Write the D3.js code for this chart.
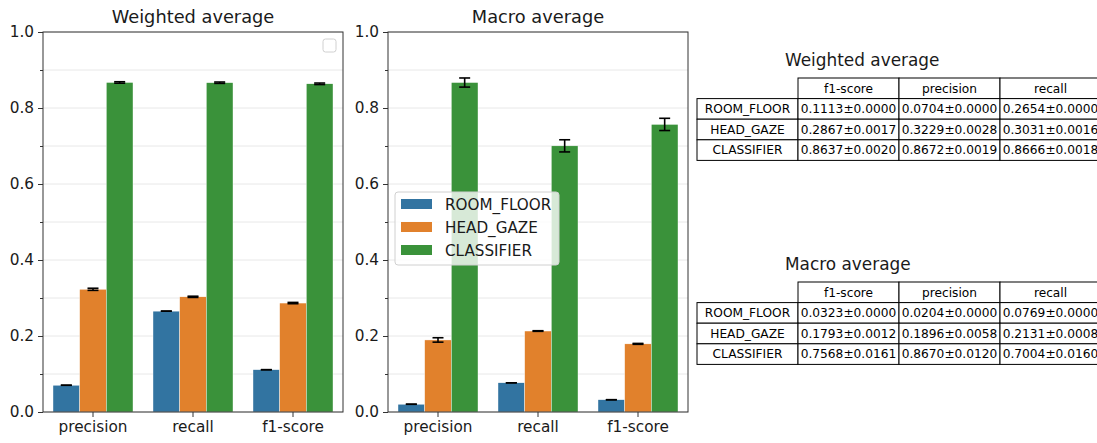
<!DOCTYPE html>
<html>
<head>
<meta charset="utf-8">
<script src="https://cdn.jsdelivr.net/npm/d3@7"></script>
<style>
  body { margin: 0; background: #fff; }
  svg { font-family: "DejaVu Sans", sans-serif; }
</style>
</head>
<body>
<svg id="svg" width="1097" height="443"></svg>
<script>
// categories
const metrics = ["precision", "recall", "f1-score"]
const methods = ["ROOM_FLOOR", "HEAD_GAZE", "CLASSIFIER"]
const colors = ["#3274a1", "#e1812c", "#3a923a"]
const yTicks = [0, 0.2, 0.4, 0.6, 0.8, 1.0]
const tableCols = ["f1-score", "precision", "recall"]

// values per method, in metrics order (precision, recall, f1-score)
const weightedMean = [[0.0704, 0.2654, 0.1113], [0.3229, 0.3031, 0.2867], [0.8672, 0.8666, 0.8637]]
const weightedStd = [[0.0000, 0.0000, 0.0000], [0.0028, 0.0016, 0.0017], [0.0019, 0.0018, 0.0020]]
const macroMean = [[0.0204, 0.0769, 0.0323], [0.1896, 0.2131, 0.1793], [0.8670, 0.7004, 0.7568]]
const macroStd = [[0.0000, 0.0000, 0.0000], [0.0058, 0.0008, 0.0012], [0.0120, 0.0160, 0.0161]]

const svg = d3.select("#svg")

function drawPanel(x0, title, mean, std, legend) {
    const w = 300, top = 32, bottom = 412
    const g = svg.append("g")

    const xs = d3.scaleBand().domain(metrics).range([x0, x0 + w])
    const inner = d3.scaleBand().domain(methods).range([0, xs.bandwidth() * 0.8])
    const ys = d3.scaleLinear().domain([0, 1]).range([bottom, top])

    // grid
    const minor = d3.range(0, 1.0001, 0.1)
    g.selectAll(".grid").data(minor).enter().append("line")
        .attr("x1", x0).attr("x2", x0 + w)
        .attr("y1", d => ys(d)).attr("y2", d => ys(d))
        .attr("stroke", "#e8e8e8").attr("stroke-width", 1)

    // bars
    const rows = []
    methods.forEach((m, i) => metrics.forEach((k, j) => rows.push({m: m, k: k, i: i, v: mean[i][j], s: std[i][j]})))
    const bx = d => xs(d.k) + xs.bandwidth() * 0.1 + inner(d.m)
    g.selectAll(".bar").data(rows).enter().append("rect")
        .attr("x", bx)
        .attr("width", inner.bandwidth())
        .attr("y", d => ys(d.v))
        .attr("height", d => ys(0) - ys(d.v))
        .attr("fill", d => colors[d.i])
        .attr("stroke", "#fff").attr("stroke-width", 0.4)

    // error bars
    const cx = d => bx(d) + inner.bandwidth() / 2
    const cap = 5.5
    const eb = g.selectAll(".err").data(rows).enter().append("g")
        .attr("stroke", "#000").attr("stroke-width", 1.6)
    eb.append("line").attr("x1", cx).attr("x2", cx)
        .attr("y1", d => ys(d.v - d.s)).attr("y2", d => ys(d.v + d.s))
    eb.append("line").attr("x1", d => cx(d) - cap).attr("x2", d => cx(d) + cap)
        .attr("y1", d => ys(d.v - d.s)).attr("y2", d => ys(d.v - d.s))
    eb.append("line").attr("x1", d => cx(d) - cap).attr("x2", d => cx(d) + cap)
        .attr("y1", d => ys(d.v + d.s)).attr("y2", d => ys(d.v + d.s))

    // axes
    g.append("g").attr("transform", `translate(${x0},0)`)
        .call(d3.axisLeft(ys).tickValues(yTicks).tickFormat(d3.format(".1f")).tickSize(5).tickPadding(4))
    g.append("g").attr("transform", `translate(${x0},0)`)
        .call(d3.axisLeft(ys).tickValues(d3.range(0.1, 1, 0.2)).tickFormat("").tickSize(3))
    g.append("g").attr("transform", `translate(0,${bottom})`)
        .call(d3.axisBottom(xs).tickSize(5).tickPadding(4))
    g.selectAll(".tick text").attr("font-size", 15.3).attr("fill", "#1a1a1a").attr("font-family", "DejaVu Sans")
    g.selectAll(".tick line").attr("stroke", "#333")
    g.selectAll(".domain").remove()

    g.append("rect").attr("x", x0).attr("y", top).attr("width", w).attr("height", bottom - top)
        .attr("fill", "none").attr("stroke", "#333").attr("stroke-width", 1)

    g.append("text").attr("x", x0 + w / 2).attr("y", top - 9)
        .attr("text-anchor", "middle").attr("font-size", 17.8).attr("fill", "#1a1a1a").text(title)

    if (legend) {
        const lg = g.append("g")
        lg.append("rect").attr("x", x0 + 7).attr("y", 192).attr("width", 164).attr("height", 73)
            .attr("rx", 3).attr("fill", "#fff").attr("fill-opacity", 0.8).attr("stroke", "#d0d0d0")
        methods.forEach((m, i) => {
            lg.append("rect").attr("x", x0 + 13).attr("y", 199 + i * 23).attr("width", 31).attr("height", 10)
                .attr("fill", colors[i])
            lg.append("text").attr("x", x0 + 57).attr("y", 209.5 + i * 23)
                .attr("font-size", 15.2).attr("fill", "#1a1a1a").text(m)
        })
    } else {
        g.append("rect").attr("x", x0 + w - 20).attr("y", 39).attr("width", 13).attr("height", 13)
            .attr("rx", 2.5).attr("fill", "#fff").attr("stroke", "#d0d0d0")
    }
}

drawPanel(43, "Weighted average", weightedMean, weightedStd, false)
drawPanel(388, "Macro average", macroMean, macroStd, true)

function drawTable(top, title, mean, std) {
    const colW = 101
    const rowH = 20.6
    const left = 697
    const g = svg.append("g")
    g.append("text").attr("x", 785).attr("y", top - 12).attr("text-anchor", "start")
        .attr("font-size", 16.9).attr("fill", "#1a1a1a").text(title)

    const cells = []
    tableCols.forEach((c, j) => cells.push({x: left + colW * (j + 1), y: top, t: c}))
    methods.forEach((m, i) => {
        cells.push({x: left, y: top + rowH * (i + 1), t: m})
        tableCols.forEach((c, j) => {
            const k = metrics.indexOf(c)
            cells.push({x: left + colW * (j + 1), y: top + rowH * (i + 1), t: mean[i][k].toFixed(4) + "±" + std[i][k].toFixed(4)})
        })
    })
    const cg = g.selectAll(".cell").data(cells).enter().append("g")
    cg.append("rect").attr("x", d => d.x).attr("y", d => d.y).attr("width", colW).attr("height", rowH)
        .attr("fill", "#fff").attr("stroke", "#000").attr("stroke-width", 1)
    cg.append("text").attr("x", d => d.x + colW / 2).attr("y", d => d.y + rowH / 2 + 4.2)
        .attr("text-anchor", "middle").attr("font-size", 12.2).attr("fill", "#000").text(d => d.t)
}

drawTable(78, "Weighted average", weightedMean, weightedStd)
drawTable(282, "Macro average", macroMean, macroStd)
</script>
</body>
</html>
